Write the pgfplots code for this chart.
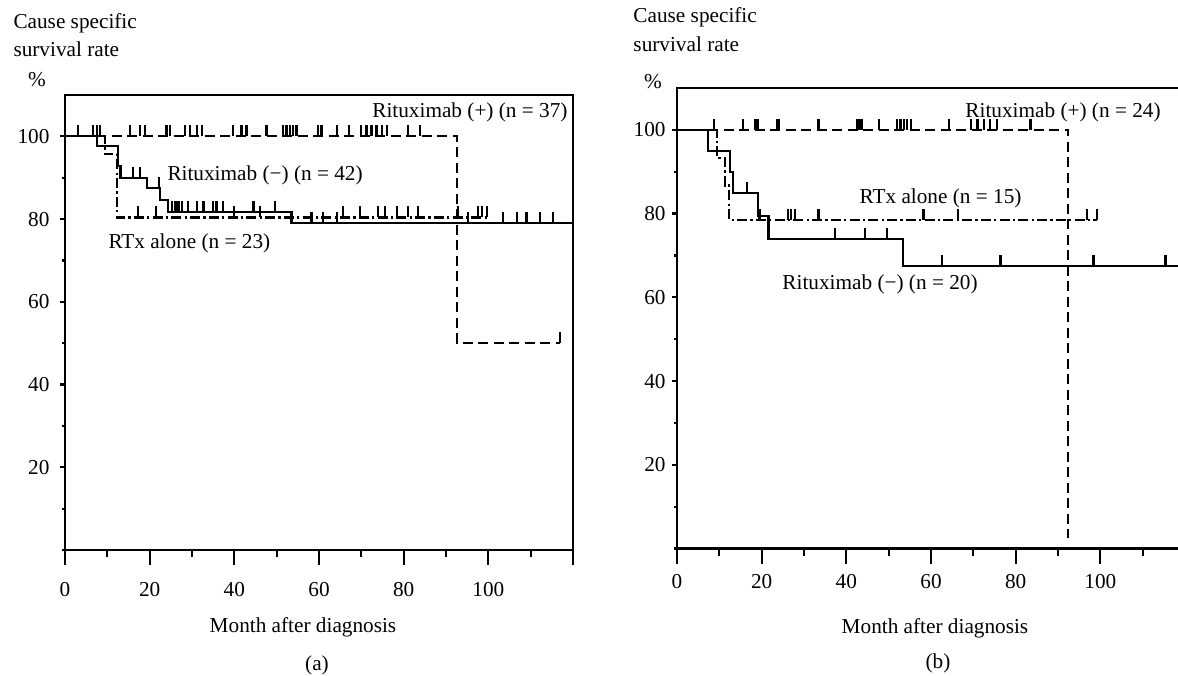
\documentclass[border=0pt]{standalone}
\usepackage{fontspec}
\setmainfont{Liberation Serif}
\usepackage{pgfplots}
\pgfplotsset{compat=1.18}

% censoring tick: short vertical stroke upward from the curve
\pgfdeclareplotmark{cens}{%
  \pgfpathmoveto{\pgfqpoint{0pt}{0pt}}%
  \pgfpathlineto{\pgfqpoint{0pt}{4.4pt}}%
  \pgfusepathqstroke}

\newcommand{\fs}{\fontsize{8.5}{10}\selectfont}

\pgfplotsset{
  km/.style={
    scale only axis, width=203.2pt,
    xmin=0, xmax=120, ymin=0, ymax=110,
    axis line style={line width=0.9pt},
    xtick={0,20,...,120}, xticklabels={0,20,40,60,80,100,},
    minor xtick={10,30,...,110},
    ytick={20,40,...,100}, minor ytick={0,10,30,50,70,90},
    tick pos=left, tick align=outside,
    xtick style={line width=0.9pt, black, /pgfplots/major tick length=6pt, /pgfplots/minor tick length=3pt},
    ytick style={line width=0.9pt, black, /pgfplots/major tick length=2pt, /pgfplots/minor tick length=1.2pt},
    ticklabel style={font=\fs},
    /pgf/number format/assume math mode=true,
  },
  curve/.style={black, line width=0.9pt, const plot, mark=none},
  cmark/.style={black, only marks, mark=cens, mark options={solid, line width=0.9pt}},
  dsh/.style={dash pattern=on 4pt off 2.2pt},
  dshdot/.style={dash pattern=on 4pt off 1.3pt on 0.9pt off 1.3pt},
}

\begin{document}
\begin{tikzpicture}
\useasboundingbox (0,0) rectangle (471.2pt,270.4pt);
\clip (0,0) rectangle (471.2pt,270.4pt);

% ---------- panel (a) ----------
\begin{axis}[km, height=182pt, at={(26pt,50.4pt)}, anchor=south west,
  xticklabel style={yshift=-5pt}, yticklabel style={xshift=1.6pt}]
% Rituximab (+)
\addplot[curve, dsh] coordinates {(0,100)(92.6,50)(116.9,50)};
\addplot[cmark] coordinates {
 (3.1,100)(6.7,100)(7.5,100)(8.3,100)(15.3,100)(17.7,100)(18.9,100)
 (24.0,100)(24.8,100)(28.3,100)(29.5,100)(31.1,100)(32.3,100)(39.7,100)
 (41.7,100)(42.9,100)(47.6,100)(51.5,100)(52.3,100)(53.1,100)(53.9,100)
 (54.7,100)(59.8,100)(60.6,100)(64.2,100)(67.0,100)(70.0,100)(71.2,100)
 (72.4,100)(73.6,100)(74.8,100)(76.0,100)(81.0,100)(83.8,100)(116.9,50)};
% Rituximab (-)
\addplot[curve] coordinates {(0,100)(7.5,97.6)(12.6,92.9)(13.1,90.0)(19.3,87.6)
 (22.4,84.7)(24.4,81.8)(53.5,79.0)(120,79.0)};
\addplot[cmark] coordinates {
 (16.0,90.0)(17.7,90.0)(22.2,87.6)
 (25.2,81.8)(26.0,81.8)(26.4,81.8)(26.8,81.8)(27.6,81.8)(29.1,81.8)(31.1,81.8)
 (32.7,81.8)(35.0,81.8)(35.8,81.8)(37.4,81.8)(44.5,81.8)(49.6,81.8)
 (58.2,79.0)(61.0,79.0)(64.2,79.0)(95.2,79.0)(103.4,79.0)(106.7,79.0)
 (109.0,79.0)(112.2,79.0)(115.2,79.0)};
% RTx alone
\addplot[curve, dshdot] coordinates {(0,100)(9.4,95.7)(12.3,80.4)(99.6,80.4)};
\addplot[cmark] coordinates {
 (17.2,80.4)(21.5,80.4)(40.0,80.4)(46.0,80.4)(65.6,80.4)(69.7,80.4)(74.0,80.4)
 (75.6,80.4)(78.4,80.4)(81.0,80.4)(83.4,80.4)(92.8,80.4)(97.5,80.4)(98.5,80.4)
 (99.6,80.4)};
\end{axis}

% ---------- panel (b) ----------
\begin{axis}[km, height=184.2pt, at={(270.8pt,51pt)}, anchor=south west,
  xticklabel style={yshift=-2.4pt}, yticklabel style={xshift=3.2pt}]
% Rituximab (+)
\addplot[curve, dsh] coordinates {(0,100)(92.4,2.5)};
\addplot[cmark] coordinates {
 (8.7,100)(15.5,100)(18.5,100)(19.0,100)(23.6,100)(24.1,100)(33.4,100)
 (42.5,100)(43.0,100)(43.6,100)(47.8,100)(52.0,100)(52.8,100)(53.6,100)
 (54.4,100)(55.2,100)(64.2,100)(69.5,100)(71.0,100)(72.5,100)(74.0,100)
 (75.5,100)(83.5,100)};
% Rituximab (-)
\addplot[curve] coordinates {(0,100)(7.4,95)(12.5,90)(13.3,85)(19.2,79.5)
 (21.6,74)(53.3,67.5)(120,67.5)};
\addplot[cmark] coordinates {
 (16.5,85)(37.4,74)(44.4,74)(49.6,74)
 (62.6,67.5)(76.4,67.5)(98.4,67.5)(115.4,67.5)};
% RTx alone
\addplot[curve, dshdot] coordinates {(0,100)(9.4,93.3)(11.3,86.7)(12.3,78.5)(99.2,78.5)};
\addplot[cmark] coordinates {
 (19.5,78.5)(26.2,78.5)(27.0,78.5)(27.8,78.5)(33.4,78.5)(58.2,78.5)(66.4,78.5)
 (96.9,78.5)(99.2,78.5)};
\end{axis}

% ---------- texts (pixel grid of the reference, origin top left) ----------
\begin{scope}[shift={(0,270.4pt)}, x=0.4pt, y=-0.4pt, font=\fs, inner sep=0pt]
\node[anchor=west] at (13,23) {Cause specific};
\node[anchor=west] at (13,49) {survival rate};
\node at (37,80) {\%};
\node[anchor=west] at (633,17) {Cause specific};
\node[anchor=west] at (633,44) {survival rate};
\node at (653,82) {\%};
\node at (303,627) {Month after diagnosis};
\node at (935,628) {Month after diagnosis};
\node at (317,665) {(a)};
\node at (938,663) {(b)};
\node[anchor=east] at (568,112) {Rituximab (+) (n = 37)};
\node[anchor=west] at (167,175) {Rituximab (−) (n = 42)};
\node[anchor=west] at (108,243) {RTx alone (n = 23)};
\node[anchor=west] at (965,112) {Rituximab (+) (n = 24)};
\node[anchor=east] at (1022,198) {RTx alone (n = 15)};
\node[anchor=west] at (782,284) {Rituximab (−) (n = 20)};
\end{scope}
\end{tikzpicture}
\end{document}
